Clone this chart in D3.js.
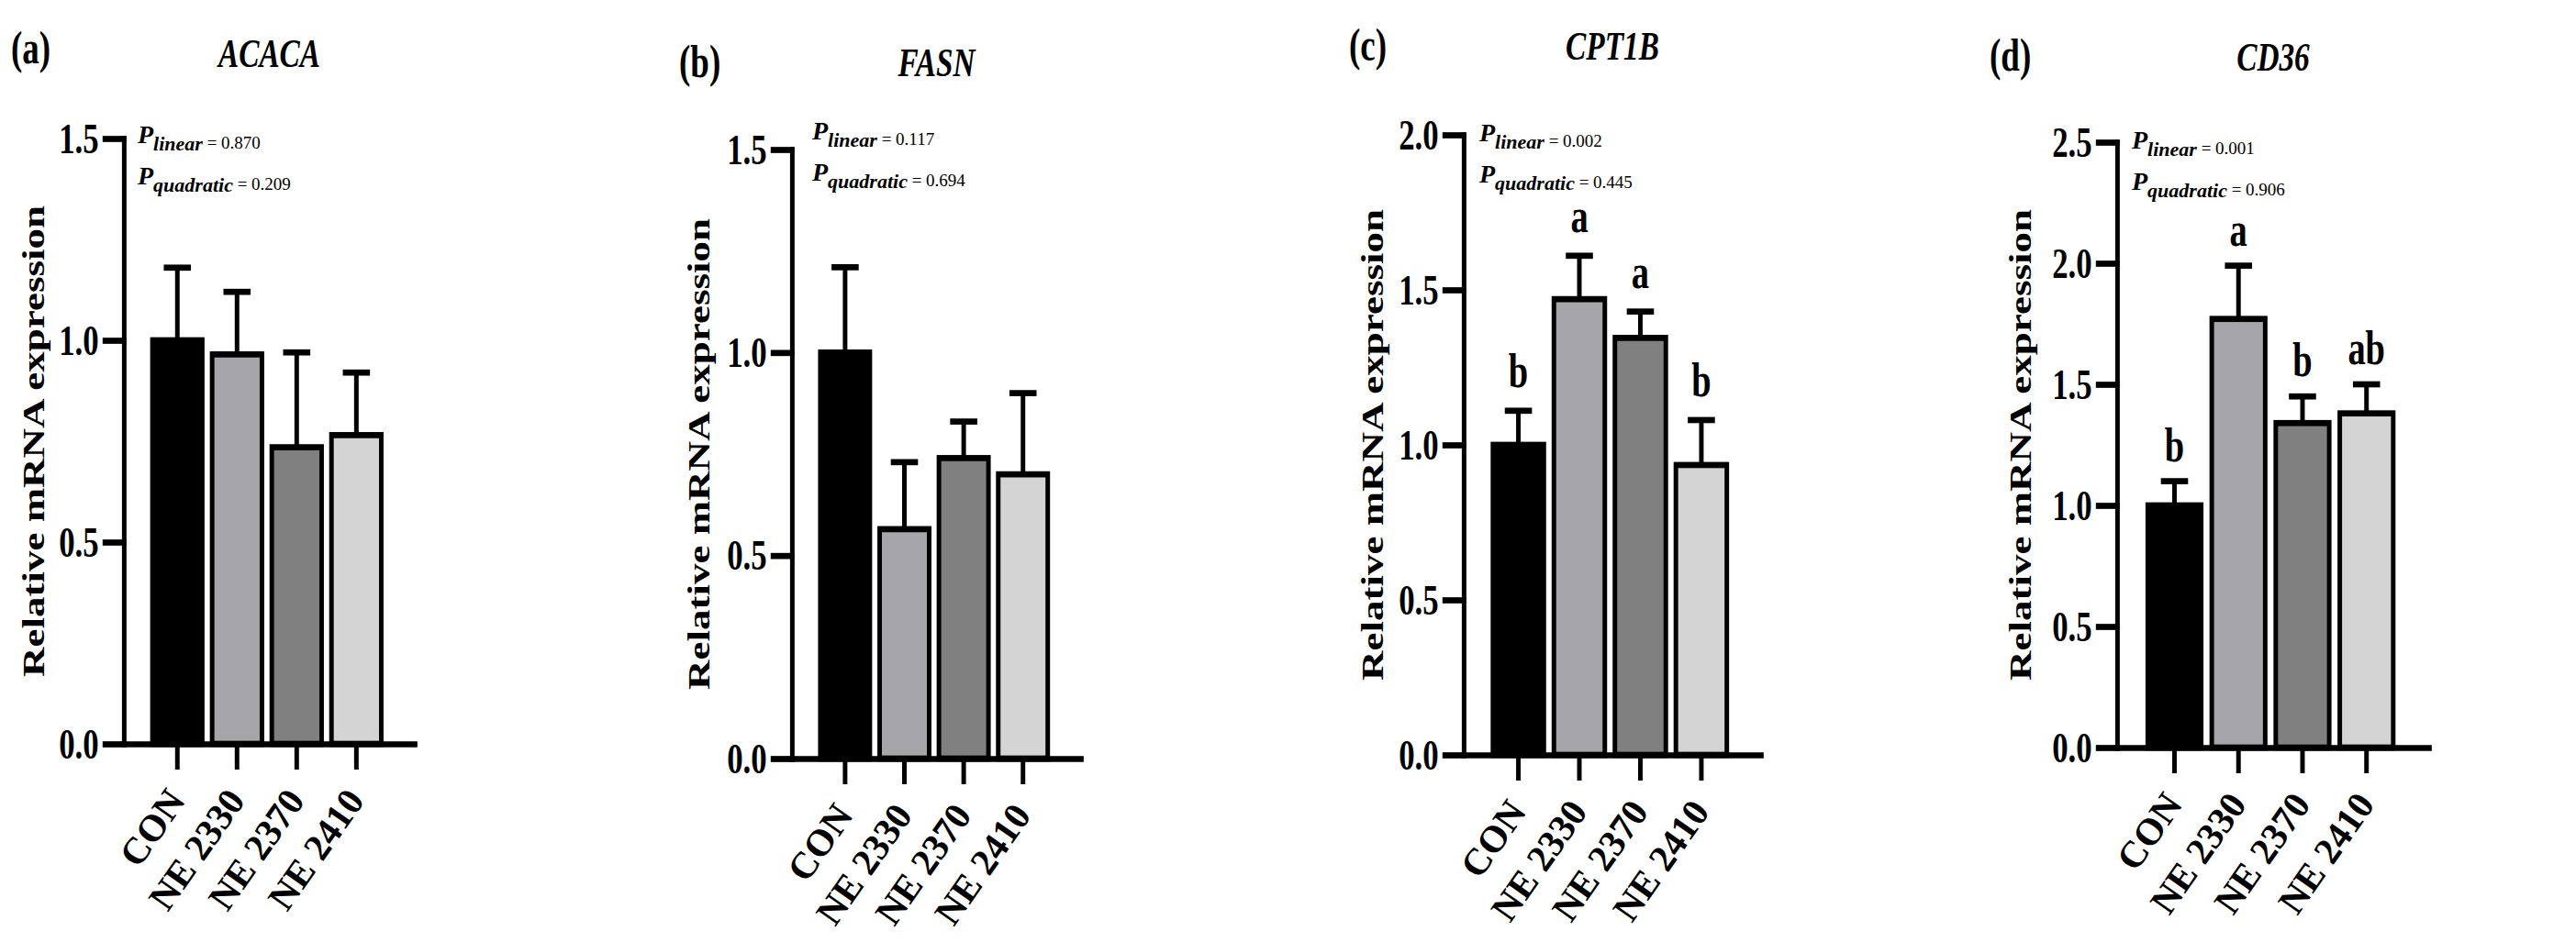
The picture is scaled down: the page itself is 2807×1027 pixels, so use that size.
<!DOCTYPE html>
<html>
<head>
<meta charset="utf-8">
<script src="https://cdn.jsdelivr.net/npm/d3@7"></script>
<style>
  body { margin: 0; background: #fff; }
  svg { display: block; }
  text { font-family: "Liberation Serif", "Times New Roman", serif; fill: #000; }
</style>
</head>
<body>
<svg id="fig"></svg>
<script>
// ---- data ----
const groups = ["CON", "NE 2330", "NE 2370", "NE 2410"];
const genes = ["ACACA", "FASN", "CPT1B", "CD36"];
const panelTags = ["(a)", "(b)", "(c)", "(d)"];

const acacaMean = [1.00, 0.965, 0.735, 0.765];
const acacaSem  = [0.18, 0.155, 0.235, 0.155];
const fasnMean  = [1.00, 0.565, 0.74, 0.70];
const fasnSem   = [0.21, 0.165, 0.09, 0.20];
const cpt1bMean = [1.00, 1.47, 1.345, 0.935];
const cpt1bSem  = [0.11, 0.14, 0.085, 0.145];
const cd36Mean  = [1.00, 1.77, 1.34, 1.38];
const cd36Sem   = [0.10, 0.22, 0.11, 0.12];

const cpt1bLetters = ["b", "a", "a", "b"];
const cd36Letters  = ["b", "a", "b", "ab"];

const pLinear    = ["0.870", "0.117", "0.002", "0.001"];
const pQuadratic = ["0.209", "0.694", "0.445", "0.906"];

const yMax = [1.5, 1.5, 2.0, 2.5];

const means   = [acacaMean, fasnMean, cpt1bMean, cd36Mean];
const sems    = [acacaSem, fasnSem, cpt1bSem, cd36Sem];
const letters = [null, null, cpt1bLetters, cd36Letters];

// ---- look ----
const barFill = ["#000000", "#a5a5aa", "#808080", "#d4d4d4"];
const W = 2807, H = 1027;
const SX = 0.74;   // the figure is horizontally condensed
const LW = 6.7;

// panel placement, in page pixels
const layout = [
  {axisX: 135,  xEnd: 452,  y0: 811, yTop: 151, tagX: 12,   tagY: 69, titleY: 73, ylabOff: 87, pX: 150,  pY1: 156, pY2: 201, gap: 26},
  {axisX: 863,  xEnd: 1178, y0: 827, yTop: 163, tagX: 740,  tagY: 84, titleY: 83, ylabOff: 90, pX: 885,  pY1: 152, pY2: 197, gap: 26},
  {axisX: 1595, xEnd: 1919, y0: 823, yTop: 147, tagX: 1470, tagY: 66, titleY: 65, ylabOff: 88, pX: 1612, pY1: 154, pY2: 199, gap: 26},
  {axisX: 2307, xEnd: 2647, y0: 815, yTop: 155, tagX: 2168, tagY: 77, titleY: 77, ylabOff: 94, pX: 2323, pY1: 162, pY2: 207, gap: 22}
];

const svg = d3.select("#fig").attr("width", W).attr("height", H);
svg.append("rect").attr("width", W).attr("height", H).attr("fill", "#fff");
const root = svg.append("g").attr("transform", `scale(${SX},1)`);
const notes = svg.append("g");

genes.forEach((gene, i) => {
  const L = layout[i];
  const width = (L.xEnd - L.axisX) / SX;
  const g = root.append("g").attr("transform", `translate(${L.axisX / SX},0)`);

  const x = d3.scaleBand().domain(groups).range([0, width])
    .paddingInner(0.165).paddingOuter(0.52).align(0.46);
  const y = d3.scaleLinear().domain([0, yMax[i]]).range([L.y0, L.yTop]);
  const cx = d => x(d) + x.bandwidth() / 2;

  // bars
  g.selectAll("rect.bar").data(groups).join("rect")
    .attr("class", "bar")
    .attr("x", d => x(d))
    .attr("width", x.bandwidth())
    .attr("y", (d, j) => y(means[i][j]))
    .attr("height", (d, j) => y(0) - y(means[i][j]))
    .attr("fill", (d, j) => barFill[j])
    .attr("stroke", "#000")
    .attr("stroke-width", LW);

  // upper error bars
  g.selectAll("line.err").data(groups).join("line")
    .attr("class", "err")
    .attr("x1", cx).attr("x2", cx)
    .attr("y1", (d, j) => y(means[i][j]))
    .attr("y2", (d, j) => y(means[i][j] + sems[i][j]))
    .attr("stroke", "#000").attr("stroke-width", LW);
  g.selectAll("line.cap").data(groups).join("line")
    .attr("class", "cap")
    .attr("x1", d => cx(d) - 20).attr("x2", d => cx(d) + 20)
    .attr("y1", (d, j) => y(means[i][j] + sems[i][j]))
    .attr("y2", (d, j) => y(means[i][j] + sems[i][j]))
    .attr("stroke", "#000").attr("stroke-width", LW);

  // significance letters
  if (letters[i]) {
    g.selectAll("text.sig").data(groups).join("text")
      .attr("class", "sig")
      .attr("x", cx)
      .attr("y", (d, j) => y(means[i][j] + sems[i][j]) - L.gap)
      .attr("text-anchor", "middle")
      .attr("font-size", 52).attr("font-weight", "bold")
      .text((d, j) => letters[i][j]);
  }

  // y axis
  const ya = g.append("g")
    .call(d3.axisLeft(y).tickValues(d3.range(0, yMax[i] + 0.01, 0.5))
      .tickSize(28).tickSizeOuter(0).tickPadding(9).tickFormat(d3.format(".1f")));
  ya.select(".domain").attr("stroke-width", LW).attr("stroke-linecap", "square");
  ya.selectAll(".tick line").attr("stroke-width", LW).attr("stroke-linecap", "square");
  ya.selectAll(".tick text")
    .attr("font-size", 47).attr("font-weight", "bold")
    .attr("font-family", "Liberation Serif, Times New Roman, serif");

  // x axis
  const xa = g.append("g").attr("transform", `translate(0,${L.y0})`)
    .call(d3.axisBottom(x).tickSize(28).tickSizeOuter(0).tickFormat(""));
  xa.select(".domain").attr("stroke-width", LW).attr("stroke-linecap", "square");
  xa.selectAll(".tick line").attr("stroke-width", LW);

  // category labels, rotated (drawn without the squeeze)
  notes.selectAll(`text.xlab${i}`).data(groups).join("text")
    .attr("class", `xlab${i}`)
    .attr("text-anchor", "end")
    .attr("transform", d => `translate(${L.axisX + cx(d) * SX + 10},${L.y0 + 62}) rotate(-55)`)
    .attr("font-size", 41).attr("font-weight", "bold")
    .text(d => d);

  // y label
  g.append("text")
    .attr("transform", `translate(${-L.ylabOff / SX},${(L.y0 + L.yTop) / 2}) rotate(-90)`)
    .attr("text-anchor", "middle")
    .attr("font-size", 45).attr("font-weight", "bold")
    .text("Relative mRNA expression");

  // gene title
  g.append("text")
    .attr("x", width / 2).attr("y", L.titleY)
    .attr("text-anchor", "middle")
    .attr("font-size", 45).attr("font-weight", "bold").attr("font-style", "italic")
    .text(gene);

  // panel tag
  root.append("text")
    .attr("x", L.tagX / SX).attr("y", L.tagY)
    .attr("font-size", 50).attr("font-weight", "bold")
    .text(panelTags[i]);

  // trend P values (not condensed)
  [["linear", pLinear[i], L.pY1], ["quadratic", pQuadratic[i], L.pY2]].forEach(([sub, val, py]) => {
    const t = notes.append("text").attr("x", L.pX).attr("y", py);
    t.append("tspan").attr("font-size", 28).attr("font-weight", "bold").attr("font-style", "italic").text("P");
    t.append("tspan").attr("dy", 8).attr("font-size", 22).attr("font-weight", "bold").attr("font-style", "italic").text(sub);
    t.append("tspan").attr("dy", -2).attr("font-size", 19).text(" = " + val);
  });
});
</script>
</body>
</html>
